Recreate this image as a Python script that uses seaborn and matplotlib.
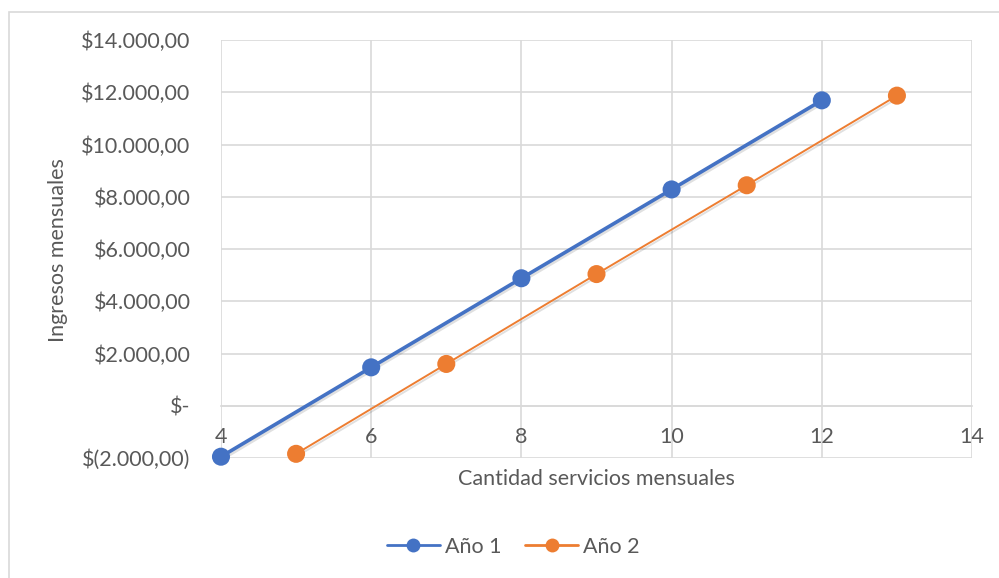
import matplotlib
matplotlib.use("Agg")
import matplotlib.pyplot as plt
import matplotlib.patheffects as pe
import seaborn as sns
import pandas as pd
from matplotlib.patches import Rectangle
from matplotlib.lines import Line2D

# datos
servicios_a1 = [4, 6, 8, 10, 12]
ingresos_a1 = [-1950, 1470, 4880, 8280, 11690]
servicios_a2 = [5, 7, 9, 11, 13]
ingresos_a2 = [-1840, 1600, 5040, 8440, 11870]
series = ["Año 1", "Año 2"]
y_ticks = [-2000, 0, 2000, 4000, 6000, 8000, 10000, 12000, 14000]
x_ticks = [4, 6, 8, 10, 12, 14]

sns.set_style("white")
plt.rcParams["font.family"] = ["Lato", "DejaVu Sans"]

azul = "#4472C4"
naranja = "#ED7D31"
gris_txt = "#595959"
gris_grid = "#D9D9D9"
fs = 15.5

df1 = pd.DataFrame({"x": servicios_a1, "y": ingresos_a1})
df2 = pd.DataFrame({"x": servicios_a2, "y": ingresos_a2})

fig = plt.figure(figsize=(9.99, 5.78), dpi=100)
ax = fig.add_axes([0.2212, 0.2076, 0.7518, 0.7232])

sombra = [pe.SimpleLineShadow(offset=(1, -1.5), alpha=0.12, shadow_color="k"), pe.Normal()]

sns.lineplot(data=df1, x="x", y="y", ax=ax, color=azul, linewidth=2.6,
             marker="o", markersize=13, markeredgewidth=0,
             path_effects=sombra, zorder=3, clip_on=False)
sns.lineplot(data=df2, x="x", y="y", ax=ax, color=naranja, linewidth=1.4,
             marker="o", markersize=13, markeredgewidth=0,
             path_effects=sombra, zorder=3, clip_on=False)

ax.set_xlim(4, 14)
ax.set_ylim(-2000, 14000)
ax.set_xticks(x_ticks)
ax.set_yticks(y_ticks)


def fmt(v):
    if v == 0:
        return "$-"
    s = f"{abs(v):,.2f}".replace(",", "X").replace(".", ",").replace("X", ".")
    return f"$({s})" if v < 0 else f"${s}"


ax.set_yticklabels([fmt(v) for v in y_ticks])
ax.grid(True, color=gris_grid, linewidth=1.2)
ax.set_axisbelow(True)
for lado in ["top", "right", "left"]:
    ax.spines[lado].set_visible(False)
ax.spines["bottom"].set_position(("data", 0))
ax.spines["bottom"].set_color(gris_grid)
ax.spines["bottom"].set_linewidth(1.2)
ax.tick_params(axis="both", length=0, labelsize=fs, labelcolor=gris_txt)
ax.tick_params(axis="y", pad=22)
ax.tick_params(axis="x", pad=15)

ax.set_xlabel("")
ax.set_ylabel("")
fig.text(0.597, 0.172, "Cantidad servicios mensuales", ha="center", va="center",
         fontsize=fs, color=gris_txt)
fig.text(0.058, 0.568, "Ingresos mensuales", ha="center", va="center",
         rotation=90, fontsize=fs, color=gris_txt)

handles = [Line2D([], [], color=c, linewidth=2, marker="o", markersize=10,
                  markeredgewidth=0) for c in (azul, naranja)]
fig.legend(handles, series, loc="center", bbox_to_anchor=(0.514, 0.054), ncol=2,
           frameon=False, fontsize=fs, labelcolor=gris_txt,
           handlelength=2.45, columnspacing=1.1, handletextpad=0.25)

# borde del area del grafico
fig.patches.append(Rectangle((0.009, -0.05), 1.1, 1.03, transform=fig.transFigure,
                             fill=False, edgecolor=gris_grid, linewidth=1.2))

fig.savefig("out.png", dpi=100)
